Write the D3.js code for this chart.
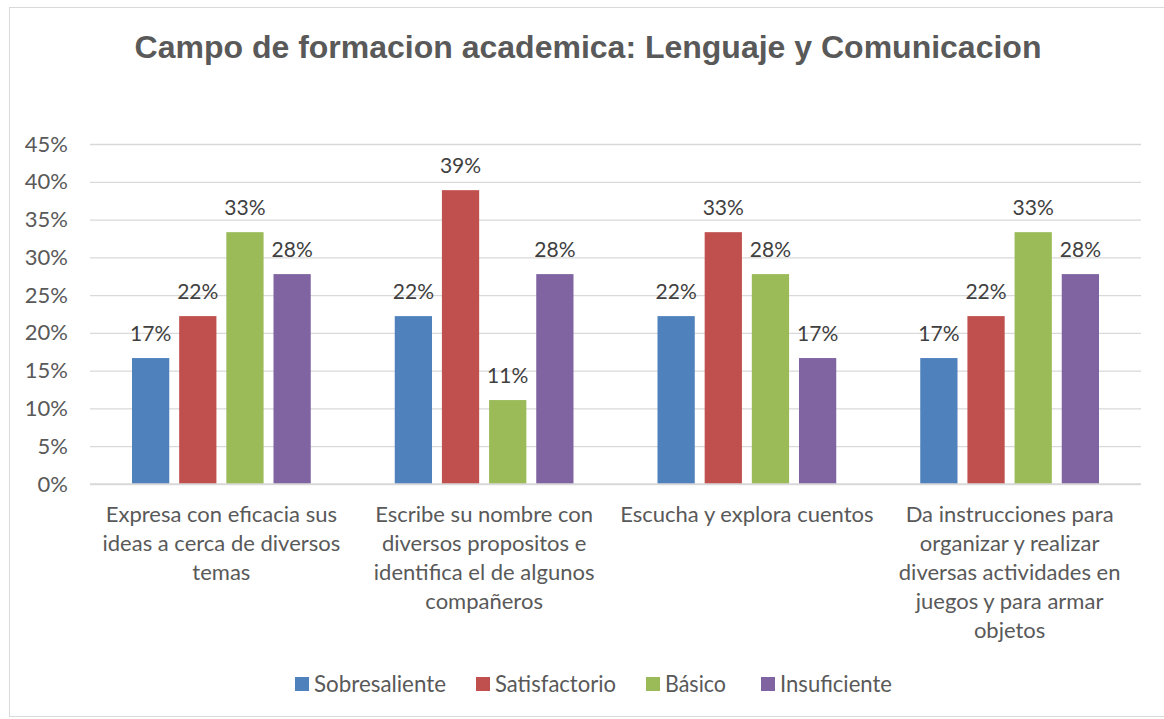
<!DOCTYPE html>
<html>
<head>
<meta charset="utf-8">
<script src="https://cdn.jsdelivr.net/npm/d3@7"></script>
<style>
  body { margin: 0; background: #fff; }
  text { font-family: Lato, "Open Sans", sans-serif; }
</style>
</head>
<body>
<div id="chart"></div>
<script>
const title = "Campo de formacion academica: Lenguaje y Comunicacion"
const categories = [
  ["Expresa con eficacia sus", "ideas a cerca de diversos", "temas"],
  ["Escribe su nombre con", "diversos propositos e", "identifica el de algunos", "compañeros"],
  ["Escucha y explora cuentos"],
  ["Da instrucciones para", "organizar y realizar", "diversas actividades en", "juegos y para armar", "objetos"]
]
const seriesNames = ["Sobresaliente", "Satisfactorio", "Básico", "Insuficiente"]
const colors = ["#4F81BD", "#C0504D", "#9BBB59", "#8064A2"]
const sobresaliente = [0.1667, 0.2222, 0.2222, 0.1667]
const satisfactorio = [0.2222, 0.3889, 0.3333, 0.2222]
const basico = [0.3333, 0.1111, 0.2778, 0.3333]
const insuficiente = [0.2778, 0.2778, 0.1667, 0.2778]
const yTicks = [0, 0.05, 0.1, 0.15, 0.2, 0.25, 0.3, 0.35, 0.4, 0.45]

const series = [sobresaliente, satisfactorio, basico, insuficiente]

const config = {
  w: 1164, h: 719,
  left: 90, right: 1141,
  top: 144, bottom: 484
}

const svg = d3.select("#chart").append("svg")
  .attr("width", config.w).attr("height", config.h)

svg.append("rect")
  .attr("x", 9.5).attr("y", 7.5)
  .attr("width", config.w - 8).attr("height", config.h - 10)
  .attr("fill", "#fff").attr("stroke", "#d9d9d9")

svg.append("text")
  .attr("x", 588).attr("y", 58)
  .attr("text-anchor", "middle")
  .style("font-family", "'Liberation Sans', Arial, sans-serif")
  .style("font-weight", "bold").style("font-size", "32px")
  .attr("fill", "#595959")
  .text(title)

const y = d3.scaleLinear().domain([0, 0.45]).range([config.bottom, config.top])
const x0 = d3.scaleBand().domain(d3.range(categories.length))
  .range([config.left, config.right])
const x1 = d3.scaleBand().domain(d3.range(series.length))
  .range([42, x0.bandwidth() - 42]).paddingInner(0.21)

// grid + y labels
const yAxis = d3.axisLeft(y).tickValues(yTicks)
  .tickSize(-(config.right - config.left))
  .tickFormat(d3.format(".0%"))
  .tickPadding(22)
const gy = svg.append("g").attr("transform", "translate(" + config.left + ",0)").call(yAxis)
gy.select(".domain").remove()
gy.selectAll("line").attr("stroke", "#d9d9d9").attr("stroke-width", 1.3)
gy.selectAll("text").attr("fill", "#595959").style("font-size", "22px")

// bars
const groups = svg.selectAll(".grp").data(categories).enter().append("g")
  .attr("transform", (d, i) => "translate(" + x0(i) + ",0)")

groups.each(function(c, ci) {
  const g = d3.select(this)
  series.forEach((s, si) => {
    g.append("rect")
      .attr("x", x1(si)).attr("width", x1.bandwidth())
      .attr("y", y(s[ci])).attr("height", config.bottom - y(s[ci]))
      .attr("fill", colors[si])
    g.append("text")
      .attr("x", x1(si) + x1.bandwidth() / 2)
      .attr("y", y(s[ci]) - 17)
      .attr("text-anchor", "middle")
      .attr("fill", "#404040").style("font-size", "21px")
      .text(d3.format(".0%")(s[ci]))
  })
})

// x axis baseline
svg.append("line")
  .attr("x1", config.left).attr("x2", config.right)
  .attr("y1", y(0)).attr("y2", y(0))
  .attr("stroke", "#d9d9d9").attr("stroke-width", 1.5)

// category labels
categories.forEach((lines, ci) => {
  const t = svg.append("text")
    .attr("x", x0(ci) + x0.bandwidth() / 2)
    .attr("y", 522)
    .attr("text-anchor", "middle")
    .attr("fill", "#595959").style("font-size", "22px")
  lines.forEach((l, li) => {
    t.append("tspan").attr("x", x0(ci) + x0.bandwidth() / 2)
      .attr("dy", li === 0 ? 0 : 29).text(l)
  })
})

// legend
const legendX = [295, 476, 646, 761]
const legendW = [132, 121, 61, 112]
const lg = svg.selectAll(".lg").data(seriesNames).enter().append("g")
  .attr("transform", (d, i) => "translate(" + legendX[i] + ",677)")
lg.append("rect").attr("width", 14).attr("height", 14).attr("fill", (d, i) => colors[i])
lg.append("text").attr("x", 19).attr("y", 15)
  .attr("fill", "#595959").style("font-size", "23px")
  .attr("textLength", (d, i) => legendW[i]).attr("lengthAdjust", "spacingAndGlyphs")
  .text(d => d)
</script>
</body>
</html>
